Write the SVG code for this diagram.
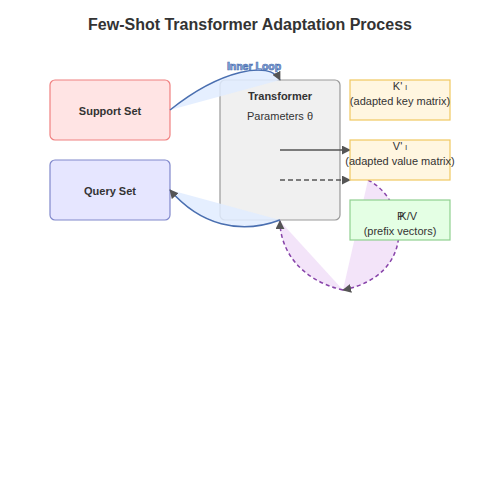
<svg xmlns="http://www.w3.org/2000/svg" width="500" height="500" viewBox="0 0 500 500">
<defs>
<style>
text{font-family:"Liberation Sans",Arial,sans-serif;fill:#333;text-anchor:middle}
.title{font-size:16px;font-weight:bold}
.lbl{font-size:11px;font-weight:bold}
.sm{font-size:11px}
.blue{fill:#e0ecff;fill-opacity:0.85;stroke:#4a6fb0;stroke-width:1.5}
.purp{fill:#eed8f6;fill-opacity:0.7;stroke:#8844aa;stroke-width:1.5;stroke-dasharray:4,3}
.arr{stroke:#555;stroke-width:1.5;fill:none}
</style>
<marker id="ah" viewBox="0 0 10 10" refX="9" refY="5" markerWidth="6" markerHeight="6" orient="auto-start-reverse" markerUnits="strokeWidth">
<path d="M0,0 L10,5 L0,10 z" fill="#555"/>
</marker>
</defs>
<rect width="500" height="500" fill="#fff"/>
<text class="title" x="250" y="30">Few-Shot Transformer Adaptation Process</text>

<g id="support">
<rect x="50" y="80" width="120" height="60" rx="5" fill="#ffe4e4" stroke="#f08080" stroke-width="1.2"/>
<text class="lbl" x="110" y="115">Support Set</text>
</g>
<g id="query">
<rect x="50" y="160" width="120" height="60" rx="5" fill="#e6e6ff" stroke="#8088cc" stroke-width="1.2"/>
<text class="lbl" x="110" y="195">Query Set</text>
</g>
<g id="transformer">
<rect x="220" y="80" width="120" height="140" rx="5" fill="#f0f0f0" stroke="#999" stroke-width="1.2"/>
<text class="lbl" x="280" y="100">Transformer</text>
<text class="sm" x="280" y="120">Parameters θ</text>
</g>

<g id="connectors">
<path class="purp" d="M368,180 C408,200 418,275 343,290" marker-end="url(#ah)"/>
<path class="purp" d="M343,290 C300,280 280,250 280,221" marker-end="url(#ah)"/>
<path class="blue" d="M170,110 C220,70 270,60 280,80"/>
<path d="M170,110 C220,70 270,60 280,80" fill="none" stroke="none" marker-end="url(#ah)" stroke-width="1.5"/>
<path class="blue" d="M280,220 C240,235 200,225 170,190"/>
<path d="M280,220 C240,235 200,225 170,190" fill="none" stroke="none" marker-end="url(#ah)" stroke-width="1.5"/>
<path class="arr" d="M280,150 L350,150" marker-end="url(#ah)"/>
<path class="arr" d="M280,180 L350,180" stroke-dasharray="5,3" marker-end="url(#ah)"/>
<text x="254" y="70" font-size="10.5" font-weight="bold" style="fill:#9ab4e4;stroke:#4a6fb0;stroke-width:0.7">Inner Loop</text>
</g>

<g id="kbox">
<rect x="350" y="80" width="100" height="40" fill="#fff6e0" stroke="#f0c860" stroke-width="1.2"/>
<text class="sm" x="400" y="90">K' <tspan font-size="8">l</tspan></text>
<text class="sm" x="400" y="105">(adapted key matrix)</text>
</g>
<g id="vbox">
<rect x="350" y="140" width="100" height="40" fill="#fff6e0" stroke="#f0c860" stroke-width="1.2"/>
<text class="sm" x="400" y="150">V' <tspan font-size="8">l</tspan></text>
<text class="sm" x="400" y="165">(adapted value matrix)</text>
</g>
<g id="pbox">
<rect x="350" y="200" width="100" height="40" fill="#e4ffe4" stroke="#90d090" stroke-width="1.2"/>
<text class="sm" x="407" y="220">P<tspan dx="-5">K/V</tspan></text>
<text class="sm" x="400" y="235">(prefix vectors)</text>
</g>
</svg>
